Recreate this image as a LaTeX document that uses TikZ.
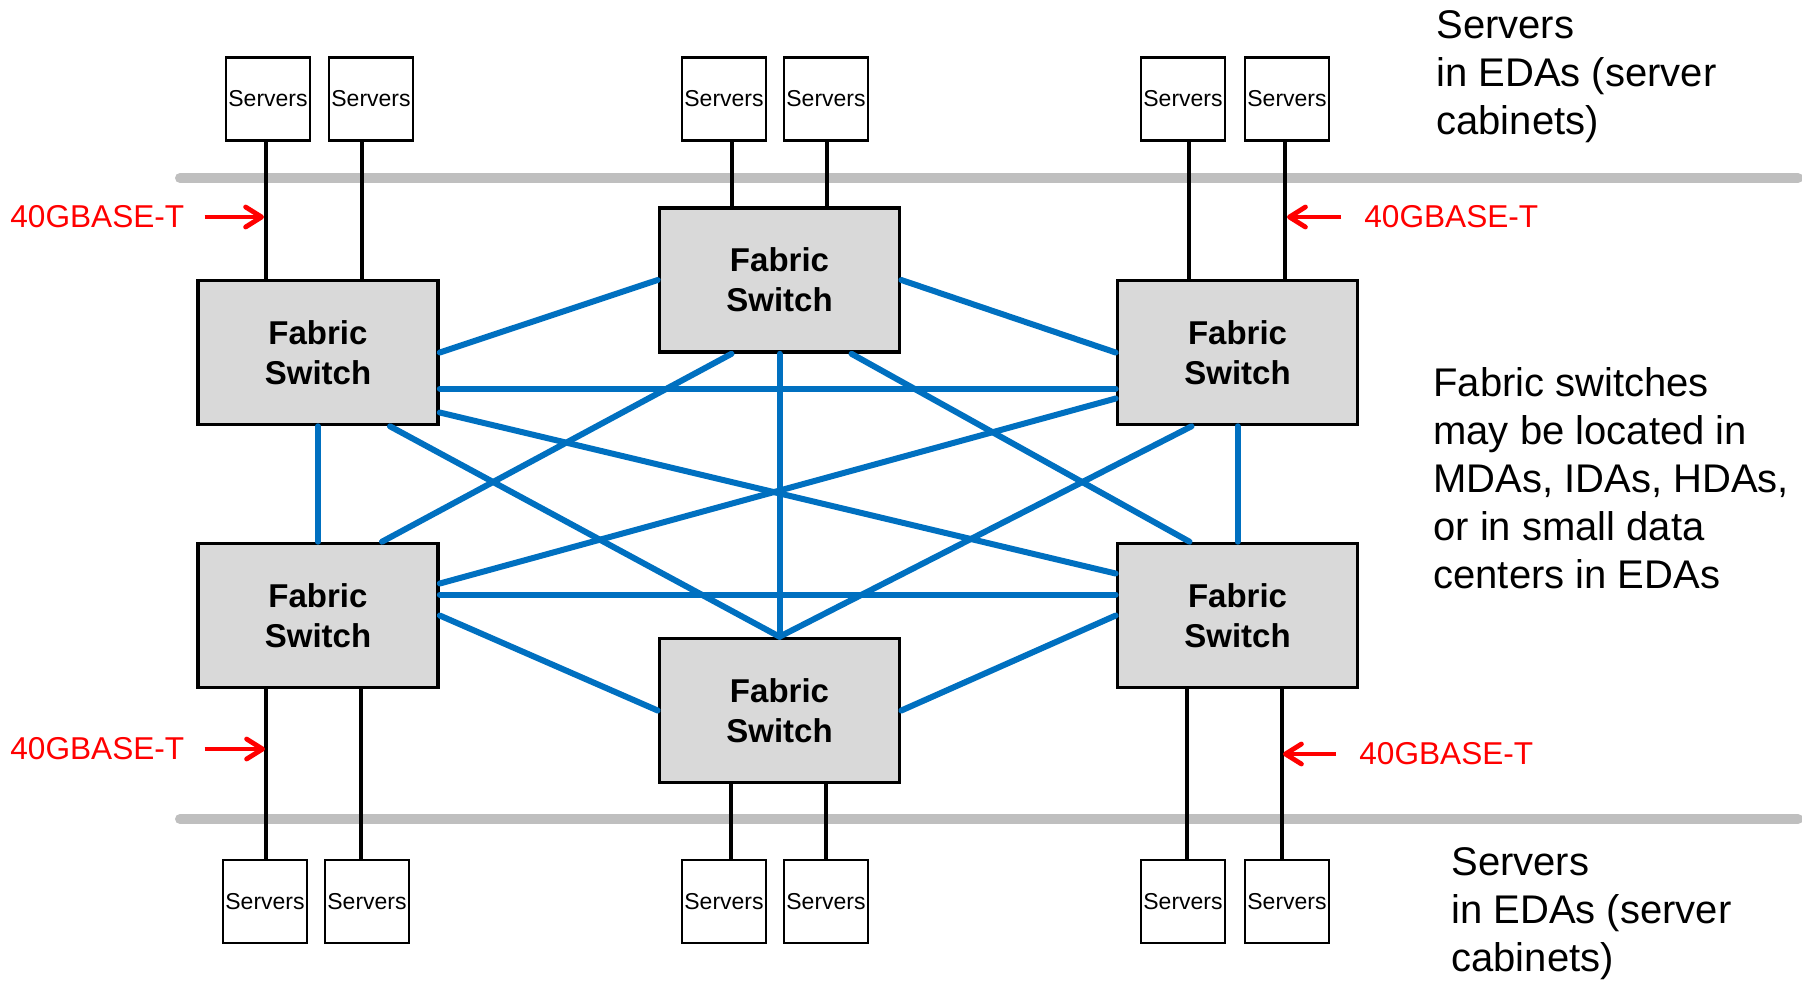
\documentclass[tikz,border=0pt]{standalone}
\usepackage{fontspec}
\setmainfont{Liberation Sans}
\usetikzlibrary{positioning,arrows.meta}

\definecolor{azul}{HTML}{0070C0}
\definecolor{cinza}{HTML}{D9D9D9}
\definecolor{barra}{HTML}{BFBFBF}

\begin{document}
\begin{tikzpicture}[
    x=0.5pt, y=-0.5pt,
    switchbox/.style={draw, line width=1.8pt, fill=cinza, align=center, minimum width=120pt, minimum height=72pt, font=\bfseries\fontsize{16.5}{20}\selectfont},
    srvbox/.style={draw, line width=1.3pt, fill=white, inner sep=0pt, minimum width=42pt, minimum height=41.5pt, font=\fontsize{11.5}{13}\selectfont},
    wire/.style={line width=1.6pt},
    link/.style={draw=azul, line width=3pt, line cap=round},
    bar/.style={draw=barra, line width=5pt, line cap=round},
    rotulo/.style={text=red, inner sep=0pt, anchor=west, font=\fontsize{15.8}{18}\selectfont},
    seta/.style={draw=red, line width=2.4pt, -{Straight Barb[length=8pt, width=10pt, round]}},
    nota/.style={align=left, anchor=north west, inner sep=0pt, font=\fontsize{20}{24}\selectfont}
]
\useasboundingbox (0,0) rectangle (1802,982);

% Faixas cinzas (limites das EDAs)
\draw[bar] (180,178) -- (1798,178);
\draw[bar] (180,819) -- (1798,819);

% Switches de fabric
\node[switchbox] (sw_tl) at (318,352.5) {Fabric\\Switch};
\node[switchbox] (sw_tc) at (779.5,280) {Fabric\\Switch};
\node[switchbox] (sw_tr) at (1237.5,352.5) {Fabric\\Switch};
\node[switchbox] (sw_bl) at (318,615.5) {Fabric\\Switch};
\node[switchbox] (sw_bc) at (779.5,710.5) {Fabric\\Switch};
\node[switchbox] (sw_br) at (1237.5,615.5) {Fabric\\Switch};

% Servidores de cima
\node[srvbox] (srv_tl_a) at (268,99) {Servers};
\node[srvbox] (srv_tl_b) at (371,99) {Servers};
\node[srvbox] (srv_tc_a) at (724,99) {Servers};
\node[srvbox] (srv_tc_b) at (826,99) {Servers};
\node[srvbox] (srv_tr_a) at (1183,99) {Servers};
\node[srvbox] (srv_tr_b) at (1287,99) {Servers};

% Servidores de baixo
\node[srvbox] (srv_bl_a) at (265,901.5) {Servers};
\node[srvbox] (srv_bl_b) at (367,901.5) {Servers};
\node[srvbox] (srv_bc_a) at (724,901.5) {Servers};
\node[srvbox] (srv_bc_b) at (826,901.5) {Servers};
\node[srvbox] (srv_br_a) at (1183,901.5) {Servers};
\node[srvbox] (srv_br_b) at (1287,901.5) {Servers};

% Cabos servidor -> switch
\draw[wire] ([xshift=-1pt]srv_tl_a.south) -- ([xshift=-1pt]srv_tl_a.south |- sw_tl.north);
\draw[wire] ([xshift=-4.5pt]srv_tl_b.south) -- ([xshift=-4.5pt]srv_tl_b.south |- sw_tl.north);
\draw[wire] ([xshift=4pt]srv_tc_a.south) -- ([xshift=4pt]srv_tc_a.south |- sw_tc.north);
\draw[wire] ([xshift=0.5pt]srv_tc_b.south) -- ([xshift=0.5pt]srv_tc_b.south |- sw_tc.north);
\draw[wire] ([xshift=3pt]srv_tr_a.south) -- ([xshift=3pt]srv_tr_a.south |- sw_tr.north);
\draw[wire] ([xshift=-1pt]srv_tr_b.south) -- ([xshift=-1pt]srv_tr_b.south |- sw_tr.north);
\draw[wire] ([xshift=0.5pt]srv_bl_a.north) -- ([xshift=0.5pt]srv_bl_a.north |- sw_bl.south);
\draw[wire] ([xshift=-3pt]srv_bl_b.north) -- ([xshift=-3pt]srv_bl_b.north |- sw_bl.south);
\draw[wire] ([xshift=3.5pt]srv_bc_a.north) -- ([xshift=3.5pt]srv_bc_a.north |- sw_bc.south);
\draw[wire] (srv_bc_b.north) -- (srv_bc_b.north |- sw_bc.south);
\draw[wire] ([xshift=2pt]srv_br_a.north) -- ([xshift=2pt]srv_br_a.north |- sw_br.south);
\draw[wire] ([xshift=-2.5pt]srv_br_b.north) -- ([xshift=-2.5pt]srv_br_b.north |- sw_br.south);

% Malha entre os switches
\draw[link] (sw_tl.east) -- (sw_tc.west);
\draw[link] (sw_tc.east) -- (sw_tr.west);
\draw[link] ([yshift=-18pt]sw_tl.east) -- ([yshift=-18pt]sw_tr.west);
\draw[link] (sw_tl.south) -- (sw_bl.north);
\draw[link] (sw_tr.south) -- (sw_br.north);
\draw[link] ([xshift=36pt]sw_tl.south) -- (sw_bc.north);
\draw[link] ([yshift=-30pt]sw_tl.east) -- ([yshift=21pt]sw_br.west);
\draw[link] ([xshift=-24pt]sw_tc.south) -- ([xshift=32pt]sw_bl.north);
\draw[link] (sw_tc.south) -- (sw_bc.north);
\draw[link] ([xshift=36pt]sw_tc.south) -- ([xshift=-24pt]sw_br.north);
\draw[link] ([yshift=-23pt]sw_tr.west) -- ([yshift=16pt]sw_bl.east);
\draw[link] ([xshift=-23pt]sw_tr.south) -- (sw_bc.north);
\draw[link] ([yshift=10.5pt]sw_bl.east) -- ([yshift=10.5pt]sw_br.west);
\draw[link] (sw_bl.east) -- (sw_bc.west);
\draw[link] (sw_br.west) -- (sw_bc.east);

% Rotulos 40GBASE-T
\node[rotulo] (rot_tl) at (10,217) {40GBASE-T};
\node[rotulo] (rot_tr) at (1364,217) {40GBASE-T};
\node[rotulo] (rot_bl) at (10,749) {40GBASE-T};
\node[rotulo] (rot_br) at (1359,754) {40GBASE-T};

\draw[seta] ([xshift=10pt]rot_tl.east) -- ([xshift=-2pt]rot_tl.east -| srv_tl_a.south);
\draw[seta] ([xshift=-11.5pt]rot_tr.west) -- (rot_tr.west -| srv_tr_b.south);
\draw[seta] ([xshift=10pt]rot_bl.east) -- (rot_bl.east -| srv_bl_a.north);
\draw[seta] ([xshift=-11.5pt]rot_br.west) -- ([xshift=-2pt]rot_br.west -| srv_br_b.north);

% Notas do lado direito
\node[nota] (nota_eda_sup) at (1436,10) {Servers\\in EDAs (server\\cabinets)};
\node[nota] (nota_fabric) at (1433,367) {Fabric switches\\may be located in\\MDAs, IDAs, HDAs,\\or in small data\\centers in EDAs};
\node[nota] (nota_eda_inf) at (1451,847) {Servers\\in EDAs (server\\cabinets)};

\end{tikzpicture}
\end{document}
